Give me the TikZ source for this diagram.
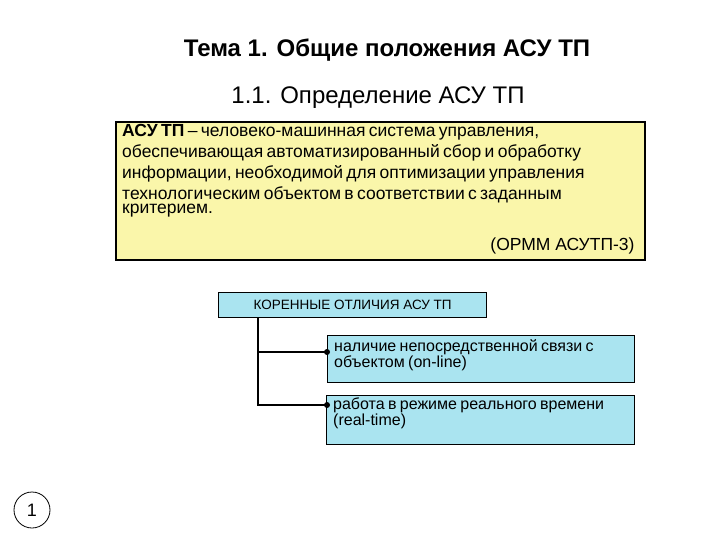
\documentclass[tikz,border=0pt]{standalone}
\usepackage{fontspec}
\setmainfont{Liberation Sans}
\definecolor{yfill}{RGB}{250,246,170}
\definecolor{cfill}{RGB}{170,228,240}
\newcommand{\jline}[1]{\makebox[510pt][s]{#1}}
\begin{document}
\begin{tikzpicture}[x=1pt,y=-1pt,
  ybox/.style={draw=black,line width=1.3pt,fill=yfill},
  cbox/.style={draw=black,line width=1.3pt,fill=cfill,anchor=north west,inner sep=0pt},
  conn/.style={line width=1.3pt},
  dotm/.style={circle,fill=black,inner sep=0pt,minimum size=6pt}]
\useasboundingbox (0,0) rectangle (720,540);
\node (t1) at (387,50) {\fontsize{24}{28}\selectfont\bfseries Тема 1. Общие положения АСУ ТП};
\node (t2) at (378,98) {\fontsize{24}{28}\selectfont 1.1. Определение АСУ ТП};
\draw[ybox] (116,122) rectangle (645,260);
\node[anchor=north west,text width=511pt,align=left,inner sep=0pt] (def) at (122,124)
 {\fontsize{17.5}{21}\selectfont
 \jline{\textbf{АСУ} \textbf{ТП} – человеко-машинная система управления,}\\
 \jline{обеспечивающая автоматизированный сбор и обработку}\\
 \jline{информации, необходимой для оптимизации управления}\\
 \jline{технологическим объектом в соответствии с заданным}\\
 критерием.};
\node[anchor=east] (src) at (638,246) {\fontsize{17.5}{20}\selectfont(ОРММ АСУТП-3)};
\node[cbox,minimum width=268pt,minimum height=25pt] (k) at (218,292) {};
\node (kt) at (k.center) {\fontsize{13.5}{15}\selectfont КОРЕННЫЕ ОТЛИЧИЯ АСУ ТП};
\node[cbox,minimum width=307pt,minimum height=47pt] (b1) at (327,335) {};
\node[anchor=north west,inner sep=0pt,text width=300pt,align=left] (b1t) at (334,339) {\fontsize{16}{21}\selectfont наличие непосредственной связи с\\объектом (on-line)};
\node[cbox,minimum width=308pt,minimum height=49pt] (b2) at (326,395) {};
\node[anchor=north west,inner sep=0pt,text width=300pt,align=left] (b2t) at (333,398) {\fontsize{16}{21}\selectfont работа в режиме реального времени\\(real-time)};
\coordinate (j1) at (258,352);
\coordinate (j2) at (258,405);
\coordinate (d1) at (327,352);
\coordinate (d2) at (327,405);
\draw[conn] (k.south west -| j1) -- (j2) -- (d2);
\draw[conn] (j1) -- (d1);
\node[dotm] (p1) at (d1) {};
\node[dotm] (p2) at (d2) {};
\node[circle,draw=black,line width=0.8pt,minimum size=36pt,inner sep=0pt] (num) at (32,510) {\fontsize{18}{20}\selectfont 1};
\end{tikzpicture}
\end{document}
